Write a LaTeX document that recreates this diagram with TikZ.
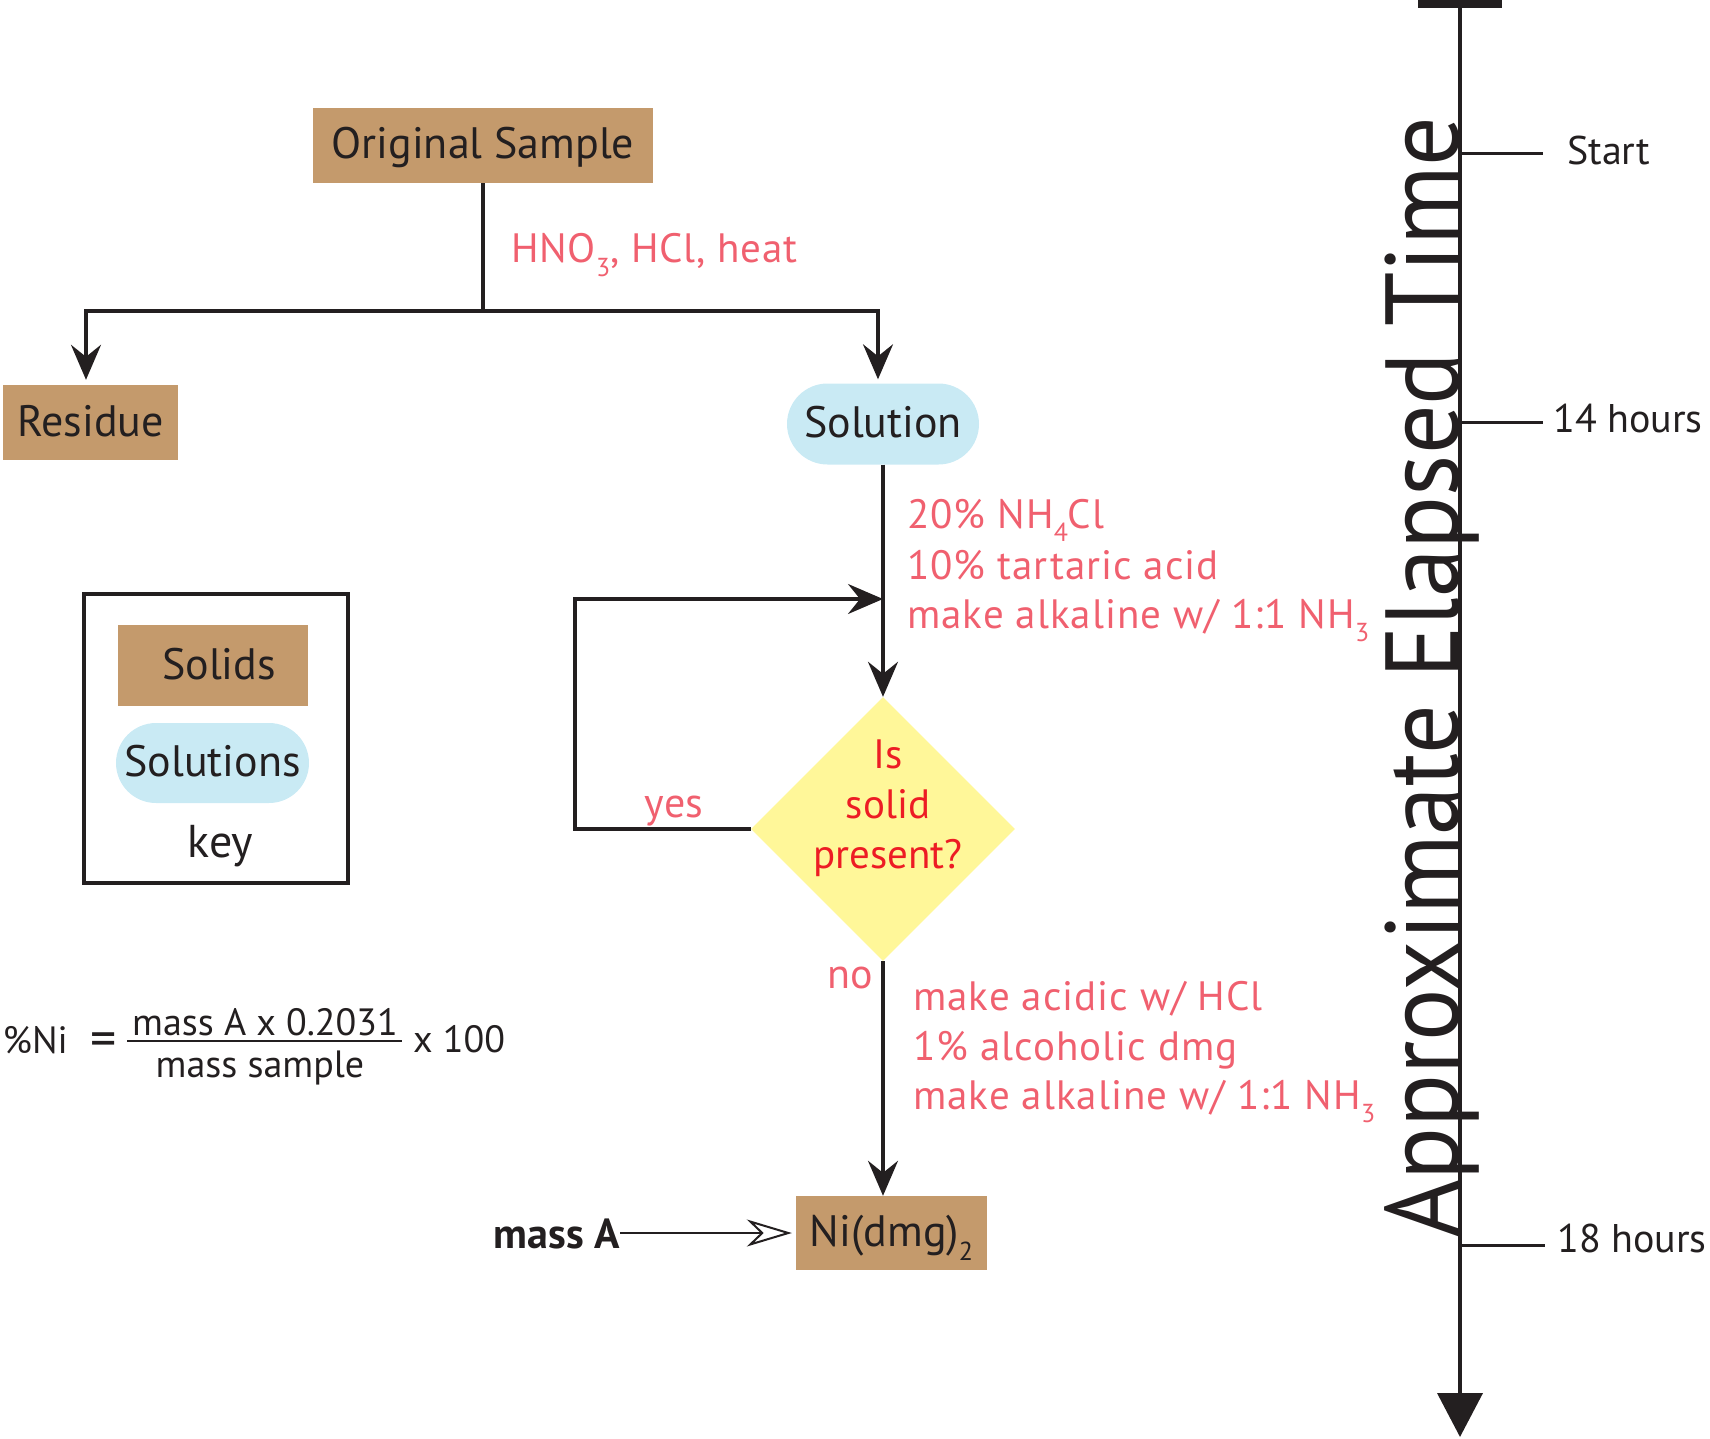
\documentclass[tikz,border=0pt]{standalone}
\usepackage{fontspec}
\setmainfont{PT Sans}
\usetikzlibrary{arrows.meta,shapes.geometric,shapes.misc}
\definecolor{brn}{HTML}{C49A6C}
\definecolor{blu}{HTML}{C9EAF4}
\definecolor{ylw}{HTML}{FFF799}
\definecolor{pnk}{HTML}{F0606F}
\definecolor{rd}{HTML}{ED1C24}
\definecolor{blk}{HTML}{231F20}
\newcommand\chemsub[1]{\raisebox{-0.32em}{\fontsize{26}{26}\selectfont #1}}
\begin{document}
\begin{tikzpicture}[x=1pt,y=-1pt,
  solidbox/.style={fill=brn, inner sep=0, text height=27pt, text depth=0pt, text=blk, font=\fontsize{44}{44}\selectfont},
  solnbox/.style={rounded rectangle, fill=blu, inner sep=0, text height=27pt, text depth=0pt, text=blk, font=\fontsize{44}{44}\selectfont},
  reagent/.style={anchor=base west, inner sep=0, text=pnk, font=\fontsize{41}{41}\selectfont\addfontfeature{LetterSpace=2.5}},
  qtext/.style={anchor=base, inner sep=0, text=rd, font=\fontsize{41}{41}\selectfont},
  blacktext/.style={inner sep=0, text=blk, font=\fontsize{40}{40}\selectfont},
  conn/.style={draw=blk, line width=3.5pt},
  arr/.style={conn, -{Stealth[length=35pt,width=30pt,inset=12pt]}},
  tickline/.style={draw=blk, line width=3pt}]
\useasboundingbox (0,0) rectangle (1710,1439);

% boxes
\node[solidbox, minimum width=340pt, minimum height=75pt] (orig) at (483,145.5) {Original Sample};
\node[solidbox, minimum width=175pt, minimum height=75pt] (residue) at (90.5,422.5) {Residue};
\node[solnbox, minimum width=192pt, minimum height=81pt] (solution) at (883,424) {Solution};
\node[diamond, fill=ylw, minimum width=264pt, minimum height=264pt, inner sep=0] (dia) at (883,829) {};
\node[solidbox, minimum width=191pt, minimum height=74pt] (ni) at (891.5,1233) {Ni(dmg)\chemsub{2}};

% key
\node[draw=blk, line width=3.5pt, minimum width=264pt, minimum height=289pt, inner sep=0] (keybox) at (216,738.5) {};
\node[solidbox, minimum width=190pt, minimum height=81pt] (solids) at (213,665.5) {\hspace{12pt}Solids};
\node[solnbox, minimum width=193pt, minimum height=80pt] (solutions) at (212.5,763) {Solutions};
\node[blacktext, anchor=base, font=\fontsize{46}{46}\selectfont] (keylabel) at (220.5,857) {key};

% reagent labels
\node[reagent, font=\fontsize{41}{41}\selectfont\addfontfeature{LetterSpace=2}] (acid) at (511,263) {HNO\chemsub{3}, HCl, heat};
\node[reagent] (ra) at (907,528) {20\% NH\chemsub{4}Cl};
\node[reagent] (rb) at (907,579) {10\% tartaric acid};
\node[reagent] (rc) at (907,628) {make alkaline w/ 1:1 NH\chemsub{3}};
\node[reagent] (rd1) at (913,1010) {make acidic w/ HCl};
\node[reagent] (rd2) at (913,1060) {1\% alcoholic dmg};
\node[reagent] (rd3) at (913,1109) {make alkaline w/ 1:1 NH\chemsub{3}};

% decision text
\node[qtext] (q1) at (888,768) {Is};
\node[qtext] (q2) at (888,818) {solid};
\node[qtext] (q3) at (888,868) {present?};
\node[reagent, anchor=base, font=\fontsize{42}{42}\selectfont] (yes) at (674,817) {yes};
\node[reagent, anchor=base, font=\fontsize{42}{42}\selectfont] (no) at (850,988) {no};

% connectors
\coordinate (split) at (orig.south |- 0,311);
\draw[conn] (orig.south) -- (split);
\draw[arr] (split) -| ([xshift=-4.5pt,yshift=5pt]residue.north);
\draw[arr] (split) -| ([xshift=-5pt,yshift=4pt]solution.north);
\draw[arr] (solution.south) -- (dia.north);
\coordinate (loopc) at (575,829);
\coordinate (join) at (solution.south |- 0,599);
\draw[arr] (dia.west) -- (loopc) |- (join);
\draw[arr] (dia.south) -- (dia.south |- ni.north);

% mass A
\node[blacktext, anchor=base east, font=\bfseries\fontsize{42}{42}\selectfont] (massA) at (620,1248) {mass A};
\draw[draw=blk, line width=2.5pt, -{Stealth[open,length=45pt,width=27pt,inset=14pt,line width=2pt]}, shorten >=4pt] (massA.east |- ni.west) -- (ni.west);

% formula
\node[blacktext, anchor=base east, font=\fontsize{38}{38}\selectfont] (pni) at (68,1053) {\%Ni};
\node[blacktext, anchor=base, font=\fontsize{52}{52}\selectfont] (eq) at (104,1056) {=};
\node[blacktext, anchor=base, font=\fontsize{38}{38}\selectfont] (num) at (265,1035) {mass A x 0.2031};
\node[blacktext, anchor=base, font=\fontsize{38}{38}\selectfont] (den) at (260,1077) {mass sample};
\draw[draw=blk, line width=2.5pt] (127,1041) -- (402,1041);
\node[blacktext, anchor=base west, font=\fontsize{38}{38}\selectfont] (x100) at (413,1052) {x 100};

% timeline
\fill[blk] (1418,0) rectangle (1502,8);
\coordinate (ttop) at (1460,0);
\coordinate (tbot) at (1460,1437);
\draw[draw=blk, line width=4pt, -{Triangle[length=44pt,width=45pt]}] (ttop) -- (tbot);
\node[rotate=90, anchor=base west, inner sep=0, text=blk] (title) at (1458,1238) {\resizebox{1121pt}{\height}{\fontsize{104}{104}\selectfont Approximate Elapsed Time}};
\coordinate (t0) at (1460,154);
\coordinate (t1) at (1460,422);
\coordinate (t2) at (1460,1245);
\draw[tickline] (t0) -- ++(83,0);
\draw[tickline] (t1) -- ++(83,0);
\draw[tickline] (t2) -- ++(85,0);
\node[blacktext, anchor=base west] (lstart) at (1567,165) {Start};
\node[blacktext, anchor=base west] (l14) at (1553,432) {14 hours};
\node[blacktext, anchor=base west] (l18) at (1557,1252) {18 hours};
\end{tikzpicture}
\end{document}
